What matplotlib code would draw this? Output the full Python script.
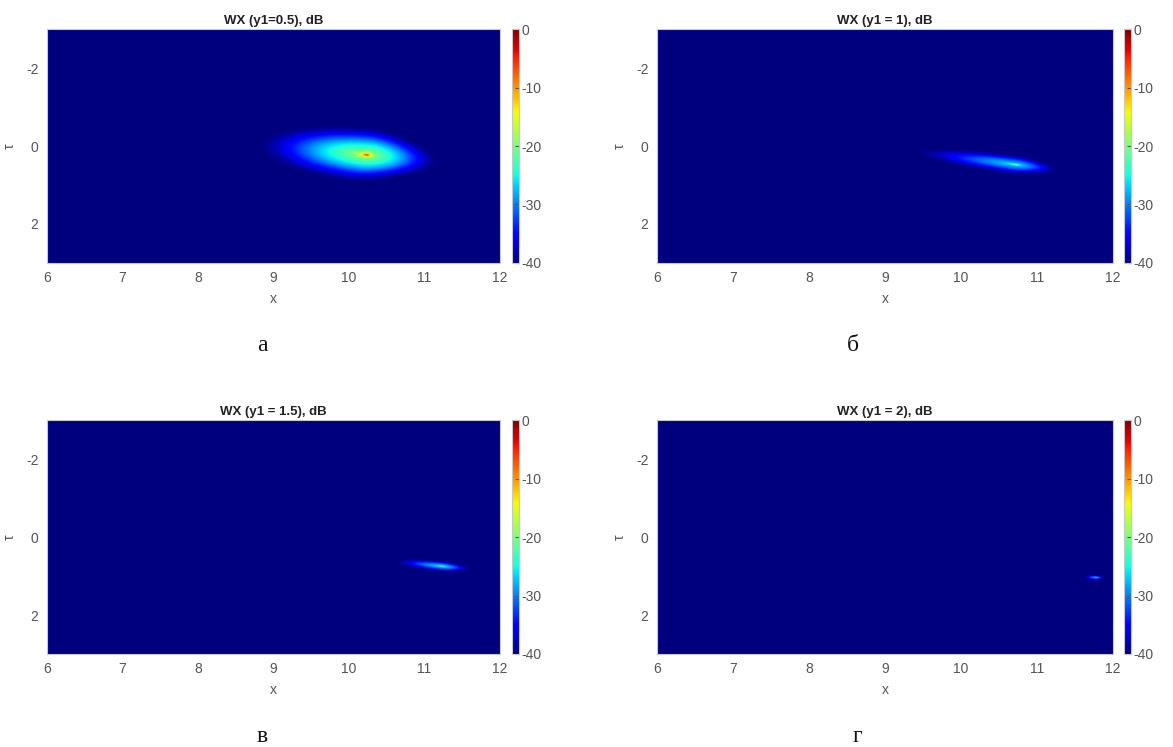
import numpy as np
import matplotlib
matplotlib.use("Agg")
import matplotlib.pyplot as plt

plt.rcParams['font.family'] = ['Liberation Sans', 'DejaVu Sans']
plt.rcParams['axes.unicode_minus'] = False

# panel parameters
titles = ["WX (y1=0.5), dB", "WX (y1 = 1), dB", "WX (y1 = 1.5), dB", "WX (y1 = 2), dB"]
letters = ["а", "б", "в", "г"]
peak_x = [10.24, 10.72, 11.24, 11.77]
peak_tau = [0.23, 0.48, 0.75, 1.04]
slope = [0.22, 0.26, 0.20, 0.10]
half_left = [1.50, 1.40, 0.68, 0.17]
half_right = [0.98, 0.58, 0.40, 0.10]
half_minor = [0.72, 0.25, 0.14, 0.06]
taper = [0.35, 0.4, 0.4, 0.3]
peak_db = [-2.0, -16.0, -15.0, -16.0]

x_ticks = [6, 7, 8, 9, 10, 11, 12]
tau_ticks = [-2, 0, 2]
cb_ticks = [0, -10, -20, -30, -40]

x = np.linspace(6, 12, 1200)
tau = np.linspace(-3, 3, 600)
X, T = np.meshgrid(x, tau)


def field(i):
    dx = X - peak_x[i]
    dt = T - peak_tau[i]
    ang = np.arctan(slope[i])
    u = dx * np.cos(ang) + dt * np.sin(ang)
    v = -dx * np.sin(ang) + dt * np.cos(ang)
    a = np.where(u < 0, half_left[i], half_right[i])
    b = half_minor[i] * np.where(u > 0, 1 - taper[i] * np.clip(u / half_right[i], 0, 1), 1.0)
    r = np.sqrt((u / a) ** 2 + (v / b) ** 2)
    rc = np.clip(r, 0, 1)
    f = 0.5 * (1 - rc ** 2) ** 2 + 0.5 * np.exp(-r / 0.05)
    return -40 + (peak_db[i] + 40) * f


fig = plt.figure(figsize=(11.73, 7.47), dpi=100)

ax_pos = [[0.040, 0.648, 0.386, 0.313], [0.560, 0.648, 0.389, 0.313],
          [0.040, 0.1245, 0.386, 0.313], [0.560, 0.1245, 0.389, 0.313]]
cb_x = [0.4365, 0.958]
letter_xy = [(0.2234, 0.538), (0.727, 0.538), (0.2234, 0.0134), (0.7306, 0.0134)]
grey = '#555555'

for i in range(4):
    p = ax_pos[i]
    ax = fig.add_axes(p)
    im = ax.imshow(field(i), extent=[6, 12, 3, -3], aspect='auto', cmap='jet',
                   vmin=-40, vmax=0, interpolation='bilinear')
    ax.set_xlim(6, 12)
    ax.set_ylim(3, -3)
    ax.set_xticks(x_ticks)
    ax.set_yticks(tau_ticks)
    ax.tick_params(labelsize=10, colors=grey, length=0, pad=6)
    for s in ax.spines.values():
        s.set_color('#c8c8c8')
        s.set_linewidth(0.8)
    ax.set_title(titles[i], fontsize=9.5, fontweight='bold', color='#222222', pad=4)
    ax.set_xlabel('x', fontsize=10, color=grey, labelpad=5)
    ax.set_ylabel('τ', fontsize=10, color=grey, rotation=90)
    ax.yaxis.set_label_coords(-0.066, 0.5)

    cax = fig.add_axes([cb_x[i % 2], p[1], 0.0058, p[3]])
    cb = fig.colorbar(im, cax=cax, ticks=cb_ticks)
    cb.ax.tick_params(labelsize=10, colors=grey, length=3, direction='in', pad=2)
    cb.outline.set_edgecolor('#c8c8c8')

    fig.text(letter_xy[i][0], letter_xy[i][1], letters[i], fontsize=17,
             family=['Liberation Serif', 'DejaVu Serif'], color='#111111',
             ha='center', va='center')

fig.savefig('out.png', dpi=100)
